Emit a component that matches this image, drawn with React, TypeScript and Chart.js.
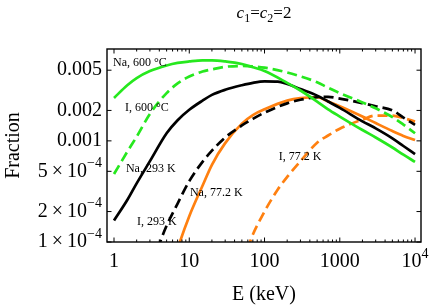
import { useEffect, useRef } from "react";
import { Chart, registerables } from "chart.js";
Chart.register(...registerables);

// ---- data (E in keV, fraction) ----
const naHotE = [1, 1.5, 2, 3, 5, 7, 10, 15, 20, 30, 50, 70, 100, 200, 300, 500, 700, 1000, 2000, 3000, 5000, 7000, 10000];
const naHotF = [2.66e-3, 3.55e-3, 4.18e-3, 4.9e-3, 5.57e-3, 5.9e-3, 6.1e-3, 6.25e-3, 6.25e-3, 6.1e-3, 5.75e-3, 5.35e-3, 4.9e-3, 3.75e-3, 3.15e-3, 2.45e-3, 2.05e-3, 1.74e-3, 1.28e-3, 1.08e-3, 8.6e-4, 7.3e-4, 6.2e-4];

const iHotE = [1, 1.5, 2, 3, 5, 7, 10, 15, 20, 30, 50, 70, 100, 200, 300, 500, 700, 1000, 2000, 3000, 5000, 7000, 10000];
const iHotF = [4.7e-4, 7.8e-4, 1.1e-3, 1.85e-3, 2.97e-3, 3.7e-3, 4.33e-3, 4.85e-3, 5.1e-3, 5.4e-3, 5.5e-3, 5.45e-3, 5.3e-3, 4.75e-3, 4.35e-3, 3.8e-3, 3.35e-3, 2.97e-3, 2.4e-3, 2.1e-3, 1.72e-3, 1.45e-3, 1.19e-3];

const naRoomE = [1, 1.5, 2, 3, 5, 7, 10, 15, 20, 30, 50, 70, 100, 150, 200, 300, 500, 700, 1000, 2000, 3000, 5000, 7000, 10000];
const naRoomF = [1.63e-4, 2.6e-4, 3.8e-4, 6.3e-4, 1.19e-3, 1.6e-3, 2.03e-3, 2.5e-3, 2.85e-3, 3.2e-3, 3.55e-3, 3.75e-3, 3.87e-3, 3.85e-3, 3.65e-3, 3.25e-3, 2.8e-3, 2.45e-3, 2.12e-3, 1.56e-3, 1.33e-3, 1.06e-3, 8.9e-4, 7.4e-4];

const iRoomE = [3.8, 4.1, 5, 7, 10, 15, 20, 30, 50, 70, 100, 200, 300, 500, 700, 1000, 2000, 3000, 5000, 7000, 10000];
const iRoomF = [0.85e-4, 1e-4, 1.45e-4, 2.4e-4, 4.0e-4, 6.2e-4, 8.0e-4, 1.08e-3, 1.42e-3, 1.65e-3, 1.9e-3, 2.35e-3, 2.55e-3, 2.7e-3, 2.72e-3, 2.62e-3, 2.36e-3, 2.2e-3, 2.0e-3, 1.7e-3, 1.44e-3];

const naColdE = [7, 7.5, 10, 15, 20, 30, 50, 70, 100, 200, 300, 500, 700, 1000, 2000, 3000, 5000, 7000, 10000];
const naColdF = [0.85e-4, 1e-4, 1.8e-4, 3.6e-4, 5.8e-4, 9.5e-4, 1.48e-3, 1.8e-3, 2.05e-3, 2.5e-3, 2.65e-3, 2.7e-3, 2.45e-3, 2.2e-3, 1.74e-3, 1.5e-3, 1.25e-3, 1.12e-3, 1.02e-3];

const iColdE = [60, 64, 100, 150, 200, 300, 500, 700, 1000, 2000, 3000, 5000, 7000, 10000];
const iColdF = [0.85e-4, 1e-4, 2e-4, 3.3e-4, 4.4e-4, 6.3e-4, 9.6e-4, 1.13e-3, 1.32e-3, 1.62e-3, 1.78e-3, 1.78e-3, 1.68e-3, 1.55e-3];

// ---- ticks ----
const xTicks = [1, 10, 100, 1000, 10000];
const xTickLabels = ["1", "10", "100", "1000", "10^4"];
const yTicks = [1e-4, 2e-4, 5e-4, 1e-3, 2e-3, 5e-3];
const yTickLabels = ["1\u2009\u00d7\u200910^\u22124", "2\u2009\u00d7\u200910^\u22124", "5\u2009\u00d7\u200910^\u22124", "0.001", "0.002", "0.005"];

// ---- curve labels (data-space anchors) ----
const labelTexts = ["Na, 600 \u00b0C", "I, 600 \u00b0C", "Na, 293 K", "Na, 77.2 K", "I, 293 K", "I, 77.2 K"];
const labelE = [0.97, 1.4, 1.44, 10.2, 2.02, 155];
const labelF = [5.9e-3, 2.12e-3, 5.28e-4, 3.06e-4, 1.58e-4, 6.95e-4];

const GREEN = "rgb(38,232,30)";
const ORANGE = "rgb(255,128,16)";
const BLACK = "#000";
const SERIF = "'Liberation Serif', 'Times New Roman', serif";

const pts = (e: number[], f: number[]) => e.map((x, i) => ({ x, y: f[i] }));

function drawSupText(ctx: CanvasRenderingContext2D, s: string, x: number, y: number, align: "right" | "center", size: number) {
  const [base, sup] = s.split("^");
  ctx.font = `${size}px ${SERIF}`;
  const wb = ctx.measureText(base).width;
  let ws = 0;
  const supSize = Math.round(size * 0.7);
  if (sup) {
    ctx.font = `${supSize}px ${SERIF}`;
    ws = ctx.measureText(sup).width;
  }
  const total = wb + ws;
  const x0 = align === "right" ? x - total : x - total / 2;
  ctx.textAlign = "left";
  ctx.textBaseline = "middle";
  ctx.font = `${size}px ${SERIF}`;
  ctx.fillText(base, x0, y);
  if (sup) {
    ctx.font = `${supSize}px ${SERIF}`;
    ctx.fillText(sup, x0 + wb, y - 8);
  }
}

const decor = {
  id: "decor",
  afterDraw(chart: any) {
    const ctx: CanvasRenderingContext2D = chart.ctx;
    const { left, right, top, bottom } = chart.chartArea;
    const xs = chart.scales.x;
    const ys = chart.scales.y;
    ctx.save();
    ctx.fillStyle = "#000";
    ctx.strokeStyle = "#000";
    // frame
    ctx.lineWidth = 1.4;
    ctx.strokeRect(left, top, right - left, bottom - top);
    // x ticks
    ctx.lineWidth = 1;
    for (let d = 0; d <= 4; d++) {
      for (let m = 1; m <= 9; m++) {
        const v = m * Math.pow(10, d);
        if (v > xs.max) continue;
        const px = xs.getPixelForValue(v);
        const len = m === 1 ? 4.5 : 2.5;
        ctx.beginPath();
        ctx.moveTo(px, bottom);
        ctx.lineTo(px, bottom - len);
        ctx.moveTo(px, top);
        ctx.lineTo(px, top + len);
        ctx.stroke();
      }
    }
    // y ticks
    for (const v of yTicks) {
      const py = ys.getPixelForValue(v);
      ctx.beginPath();
      ctx.moveTo(left, py);
      ctx.lineTo(left + 4.5, py);
      ctx.moveTo(right, py);
      ctx.lineTo(right - 4.5, py);
      ctx.stroke();
    }
    // tick labels
    yTicks.forEach((v, i) => {
      drawSupText(ctx, yTickLabels[i], left - 5, ys.getPixelForValue(v), "right", 20);
    });
    xTicks.forEach((v, i) => {
      drawSupText(ctx, xTickLabels[i], xs.getPixelForValue(v), bottom + 20, "center", 20);
    });
    // axis titles
    ctx.font = `20px ${SERIF}`;
    ctx.textAlign = "center";
    ctx.textBaseline = "middle";
    ctx.fillText("E (keV)", (left + right) / 2, 295);
    ctx.save();
    ctx.translate(14, (top + bottom) / 2);
    ctx.rotate(-Math.PI / 2);
    ctx.fillText("Fraction", 0, 0);
    ctx.restore();
    // title c1=c2=2
    const parts: [string, string, number][] = [
      ["c", "italic 17px", 0],
      ["1", "12px", 4],
      ["=", "17px", 0],
      ["c", "italic 17px", 0],
      ["2", "12px", 4],
      ["=2", "17px", 0],
    ];
    let tw = 0;
    for (const p of parts) {
      ctx.font = `${p[1]} ${SERIF}`;
      tw += ctx.measureText(p[0]).width;
    }
    let tx = (left + right) / 2 - tw / 2;
    ctx.textAlign = "left";
    ctx.textBaseline = "alphabetic";
    for (const p of parts) {
      ctx.font = `${p[1]} ${SERIF}`;
      ctx.fillText(p[0], tx, 18 + p[2]);
      tx += ctx.measureText(p[0]).width;
    }
    // curve labels
    ctx.font = `12px ${SERIF}`;
    ctx.textBaseline = "middle";
    ctx.textAlign = "left";
    labelTexts.forEach((t, i) => {
      ctx.fillText(t, xs.getPixelForValue(labelE[i]), ys.getPixelForValue(labelF[i]));
    });
    ctx.restore();
  },
};

export default function App() {
  const ref = useRef<HTMLCanvasElement>(null);
  useEffect(() => {
    document.body.style.margin = "0";
    const mk = (label: string, e: number[], f: number[], color: string, dashed: boolean) => ({
      label,
      data: pts(e, f),
      borderColor: color,
      backgroundColor: color,
      borderWidth: 2.7,
      borderDash: dashed ? [10, 5] : [],
      pointRadius: 0,
      fill: false,
      cubicInterpolationMode: "monotone" as const,
    });
    const chart = new Chart(ref.current!, {
      type: "line",
      data: {
        datasets: [
          mk("Na, 600 °C", naHotE, naHotF, GREEN, false),
          mk("I, 600 °C", iHotE, iHotF, GREEN, true),
          mk("Na, 293 K", naRoomE, naRoomF, BLACK, false),
          mk("I, 293 K", iRoomE, iRoomF, BLACK, true),
          mk("Na, 77.2 K", naColdE, naColdF, ORANGE, false),
          mk("I, 77.2 K", iColdE, iColdF, ORANGE, true),
        ],
      },
      options: {
        responsive: false,
        animation: false,
        devicePixelRatio: 1,
        layout: { padding: { left: 107, right: 9, top: 49, bottom: 65 } },
        plugins: { legend: { display: false }, tooltip: { enabled: false }, title: { display: false } },
        scales: {
          x: { type: "logarithmic", min: 0.807, max: 12000, display: false },
          y: { type: "logarithmic", min: 1e-4, max: 8.1e-3, display: false },
        },
      },
      plugins: [decor],
    });
    return () => chart.destroy();
  }, []);
  return (
    <div style={{ width: 430, height: 307, background: "#fff" }}>
      <canvas ref={ref} width={430} height={307} style={{ display: "block" }} />
    </div>
  );
}
